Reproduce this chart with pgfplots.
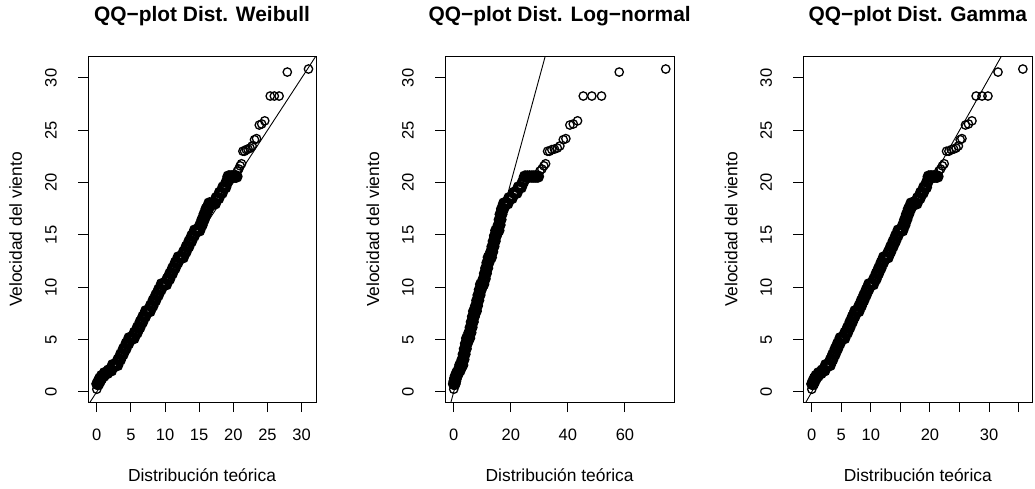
\documentclass[border=0pt]{standalone}
\usepackage{pgfplots}
\usepackage{pgfplotstable}
\usepackage{fontspec}
\setmainfont{Liberation Sans}
\pgfplotsset{compat=1.18}
% dense body of the sample (sorted wind speeds and theoretical quantiles)
\pgfplotstableread{
y xW xLN xG
0.77 0.12 0.15 0.12
0.77 0.22 0.25 0.22
1.03 0.32 0.35 0.32
1.03 0.42 0.45 0.42
1.29 0.52 0.55 0.53
1.29 0.65 0.68 0.66
1.54 0.80 0.82 0.81
1.54 1.00 1.00 1.01
1.80 1.20 1.20 1.22
1.80 1.50 1.45 1.52
2.06 1.80 1.75 1.83
2.06 2.10 2.05 2.13
2.57 2.40 2.35 2.44
2.57 2.70 2.65 2.75
2.57 3.00 2.95 3.05
3.09 3.20 3.15 3.26
3.09 3.40 3.35 3.46
3.60 3.60 3.55 3.66
3.60 3.80 3.75 3.87
4.12 4.00 3.95 4.07
4.12 4.20 4.15 4.28
4.63 4.40 4.35 4.48
4.63 4.60 4.55 4.69
5.14 4.80 4.75 4.89
5.14 5.10 5.05 5.20
5.14 5.40 5.35 5.50
5.66 5.60 5.55 5.71
5.66 5.85 5.80 5.96
6.17 6.05 6.00 6.17
6.17 6.25 6.20 6.37
6.69 6.45 6.40 6.58
6.69 6.65 6.60 6.78
7.20 6.85 6.80 6.98
7.20 7.05 7.00 7.19
7.72 7.25 7.20 7.39
7.72 7.50 7.45 7.65
7.72 7.75 7.70 7.90
8.23 7.95 7.90 8.10
8.23 8.15 8.10 8.31
8.75 8.35 8.32 8.51
8.75 8.55 8.54 8.72
9.26 8.75 8.76 8.92
9.26 8.95 8.98 9.12
9.77 9.15 9.20 9.33
9.77 9.35 9.42 9.53
10.29 9.55 9.64 9.74
10.29 9.85 9.97 10.04
10.29 10.15 10.30 10.35
10.80 10.40 10.57 10.60
10.80 10.60 10.79 10.81
11.32 10.80 11.00 11.01
11.32 11.00 11.22 11.21
11.83 11.20 11.44 11.42
11.83 11.40 11.66 11.62
12.35 11.60 11.88 11.83
12.35 11.80 12.10 12.03
12.86 12.00 12.32 12.23
12.86 12.30 12.65 12.54
12.86 12.60 12.98 12.84
13.38 12.80 13.20 13.05
13.38 13.00 13.42 13.25
13.89 13.20 13.64 13.46
13.89 13.40 13.86 13.66
14.40 13.60 14.08 13.87
14.40 13.80 14.30 14.07
14.92 14.00 14.52 14.28
14.92 14.20 14.74 14.48
15.43 14.40 14.96 14.69
15.43 14.70 15.30 14.99
15.43 15.00 15.62 15.30
15.95 15.20 15.84 15.50
15.95 15.35 16.00 15.66
16.46 15.50 16.17 15.82
16.46 15.65 16.34 15.97
16.98 15.80 16.50 16.13
16.98 15.95 16.67 16.29
17.49 16.10 17.00 16.45
17.49 16.30 17.30 16.66
18.01 16.50 17.70 16.87
18.01 16.90 18.20 17.29
18.01 17.30 18.80 17.71
18.52 17.55 19.50 17.97
18.52 17.80 20.30 18.24
19.03 18.05 21.20 18.50
19.03 18.30 22.00 18.77
19.55 18.55 22.80 19.03
19.55 18.80 23.50 19.30
20.06 19.05 24.30 19.55
20.58 19.30 25.00 19.80
20.58 19.50 25.80 20.05
20.58 19.70 26.60 20.30
20.58 19.90 27.40 20.55
20.58 20.10 28.10 20.80
20.58 20.30 28.80 21.05
20.58 20.45 29.50 21.25
}\densedata
% isolated points: the minimum and the upper tail
\pgfplotstableread{
y xW xLN xG
0.26 0.02 0.02 0.02
21.10 20.60 30.20 21.50
21.30 20.80 30.90 21.80
21.60 21.00 31.60 22.10
21.80 21.20 32.20 22.40
23.00 21.40 32.90 22.80
23.00 21.65 33.60 23.20
23.15 21.90 34.40 23.60
23.20 22.15 35.30 24.00
23.30 22.45 36.30 24.40
23.50 22.75 37.20 24.80
24.10 23.10 38.40 25.10
24.20 23.40 39.30 25.40
25.50 23.80 40.70 26.00
25.60 24.15 41.90 26.50
25.90 24.60 43.40 27.10
28.27 25.40 45.40 27.80
28.27 26.00 48.40 28.80
28.27 26.70 51.80 29.80
30.56 27.90 58.00 31.50
30.85 31.00 74.30 35.70
}\taildata
\pgfplotsset{
  qqstyle/.style={
    scale only axis,
    anchor=south west,
    height=345pt,
    ymin=-0.96, ymax=32.0,
    ytick={0,5,10,15,20,25,30},
    axis line style={line width=1pt},
    tick style={line width=1pt, black},
    tick align=outside,
    major tick length=10pt,
    xtick pos=bottom,
    ytick pos=left,
    /pgf/number format/assume math mode=true,
    tick label style={font=\fontsize{16.5}{18}\selectfont, inner sep=0pt},
    yticklabel style={rotate=90, anchor=south},
    xticklabel style={anchor=base},
    yticklabel shift=21pt,
    xticklabel shift=28pt,
    label style={font=\fontsize{17.4}{20}\selectfont, inner sep=0pt},
    xlabel={Distribución teórica},
    ylabel={Velocidad del viento},
    xlabel style={at={([yshift=-79pt]axis description cs:0.5,0)}, anchor=base},
    ylabel style={at={([xshift=-66pt]axis description cs:0,0.5)}, anchor=base, rotate=0},
    title style={font=\bfseries\fontsize{20.9}{24}\selectfont, at={([yshift=29pt]axis description cs:0.5,1)}, anchor=base, inner sep=0pt},
  },
  qqdense/.style={only marks, mark=o, mark size=4.5pt, mark options={line width=3.4pt, black}},
  qqmarks/.style={only marks, mark=o, mark size=4.2pt, mark options={line width=1.3pt, black}},
  qqline/.style={black, line width=0.9pt, no marks},
}
\begin{document}
\begin{tikzpicture}
\useasboundingbox (0,0) rectangle (1035pt,488pt);
\begin{axis}[qqstyle, at={(88pt,86pt)}, width=228pt,
  xmin=-1.27, xmax=32.1, xtick={0,5,10,15,20,25,30},
  title={QQ−plot Dist. Weibull}]
  \addplot[qqline] coordinates {(-5,-5) (80,80)};
  \addplot[qqdense] table[x=xW, y=y] {\densedata};
  \addplot[qqmarks] table[x=xW, y=y] {\taildata};
\end{axis}
\begin{axis}[qqstyle, at={(445pt,86pt)}, width=229.3pt,
  xmin=-3.05, xmax=77.3, xtick={0,20,40,60},
  title={QQ−plot Dist. Log−normal}]
  \addplot[qqline] coordinates {(-5,-5) (80,80)};
  \addplot[qqdense] table[x=xLN, y=y] {\densedata};
  \addplot[qqmarks] table[x=xLN, y=y] {\taildata};
\end{axis}
\begin{axis}[qqstyle, at={(803.3pt,86pt)}, width=229pt,
  xmin=-1.42, xmax=37.3, xtick={0,5,10,15,20,25,30,35},
  xticklabels={0,5,10,,20,,30,},
  title={QQ−plot Dist. Gamma}]
  \addplot[qqline] coordinates {(-5,-5) (80,80)};
  \addplot[qqdense] table[x=xG, y=y] {\densedata};
  \addplot[qqmarks] table[x=xG, y=y] {\taildata};
\end{axis}
\end{tikzpicture}
\end{document}
